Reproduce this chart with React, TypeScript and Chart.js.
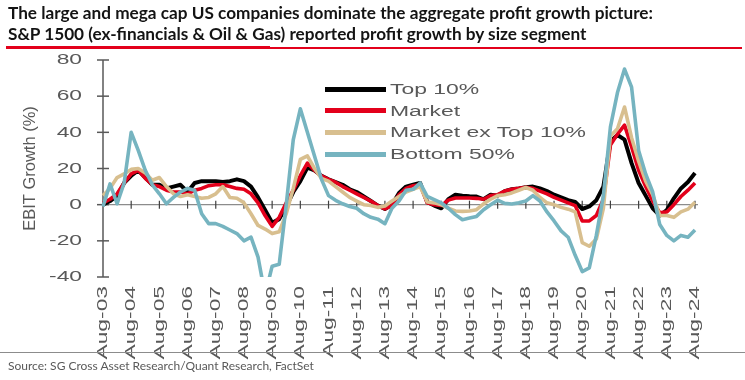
import React, { useEffect, useRef } from "react";
import { Chart, registerables } from "chart.js";

Chart.register(...registerables);

// Year tick labels (every 4th quarterly category)
const yearLabels: string[] = [
  "Aug-03", "Aug-04", "Aug-05", "Aug-06", "Aug-07", "Aug-08", "Aug-09", "Aug-10",
  "Aug-11", "Aug-12", "Aug-13", "Aug-14", "Aug-15", "Aug-16", "Aug-17", "Aug-18",
  "Aug-19", "Aug-20", "Aug-21", "Aug-22", "Aug-23", "Aug-24",
];

// Quarterly categories Aug-03 ... Aug-24
const categories: string[] = [];
yearLabels.forEach((yl, i) => {
  categories.push(yl);
  if (i < yearLabels.length - 1) {
    const yy = Number(yl.slice(4));
    const next = String(yy + 1).padStart(2, "0");
    categories.push("Nov-" + yl.slice(4));
    categories.push("Feb-" + next);
    categories.push("May-" + next);
  }
});

const top10: number[] = [
  0, 2, 5, 12,
  16, 19, 15, 11,
  11, 9, 10, 11,
  7, 12, 13, 13,
  13, 12.5, 13, 14,
  13, 10, 4, -3,
  -10, -8, -1, 7,
  13, 20.5, 19, 16,
  14, 12.5, 11, 8.5,
  7, 4.5, 2, -0.5,
  -2.4, 0, 6.5, 10,
  11, 12, 1.5, -0.5,
  -2, 3, 5.5, 5,
  4.6, 4.5, 3, 5.5,
  5, 7.5, 8.5, 9,
  9.6, 10, 9, 7.5,
  5.5, 4, 2.5, 1.5,
  -2.4, -1, 2.5, 10,
  35, 38.5, 36, 23,
  12, 5, -2, -6,
  -3, 3.5, 9, 12.5,
  17.5,
];

const market: number[] = [
  1, 3, 6, 12,
  17, 19, 14.5, 11,
  10, 8, 7, 7,
  6, 8, 9, 10.5,
  11, 11, 10, 9,
  8.5, 6, 1, -6,
  -12, -7, 1, 8,
  16, 23, 19, 16,
  14, 12.4, 10, 8,
  6, 4, 2, -0.5,
  -2.4, -0.5, 5.5, 9,
  10.5, 11, 1, 0,
  -0.5, 2.5, 3.7, 3.7,
  3.7, 3.5, 3, 5,
  5.5, 7.5, 8.5, 9,
  9.6, 9, 7.5, 6,
  4, 2.5, 1, -0.5,
  -9, -9, -6, 3,
  33, 39, 44, 32,
  19, 10, 2, -4.5,
  -4, 0, 4.5, 8,
  12,
];

const marketExTop10: number[] = [
  5, 9, 15, 17,
  19.5, 20, 17.5, 13.5,
  15, 10, 6, 4.5,
  5.5, 4.5, 3.5, 4,
  6, 10, 4, 3.5,
  1, -5, -11.5, -13.5,
  -16, -15, -5, 9,
  25, 27, 20, 14.5,
  13, 10, 7, 4,
  2, 0, -0.5, -1.5,
  -0.7, 2, 4.5, 7,
  8.5, 10, 1.5, 1,
  0, -2, -3.5, -3.7,
  -3.5, -2.8, 0.5, 3,
  5, 5.5, 6.5, 8,
  9.5, 8, 4, 1,
  0, -1.5, -2.5, -4,
  -21, -23, -19, -2,
  38, 42, 54, 37,
  24, 13, 5.5, -6,
  -6, -7, -4, -2.5,
  1.3,
];

const bottom50: number[] = [
  -1, 11.5, 0.5, 12,
  40, 30, 19, 11,
  6, 0.5, 4, 7,
  9, 8, -5, -10.5,
  -10.5, -12, -14, -16,
  -20, -18, -29, -50,
  -34, -33, 0, 36,
  53, 40, 27, 14,
  5, 2.4, 0.5, -1,
  -2, -5, -7, -8,
  -10.5, -2, 2, 8,
  8.5, 12, 4.6, 2.8,
  1, -2, -5.5, -8.3,
  -7.4, -6.5, -2.8, 0,
  2.5, 0.7, 0.4, 1,
  2, 5, 2, -4,
  -9, -14.5, -18, -28,
  -37, -35, -17, 5,
  43, 62, 75, 65,
  30, 17, 7, -11,
  -17, -20, -17, -18,
  -14,
];

const seriesNames: string[] = ["Top 10%", "Market", "Market ex Top 10%", "Bottom 50%"];
const seriesColors: string[] = ["#000000", "#E3001B", "#D8BF8F", "#76B4C0"];
const yTicks: number[] = [-40, -20, 0, 20, 40, 60, 80];

const GREY = "#595959";

const decorPlugin = {
  id: "decor",
  beforeDatasetsDraw(chart: any) {
    const { ctx, chartArea, scales } = chart;
    const x = scales.x;
    const y = scales.y;
    const y0 = y.getPixelForValue(0);
    ctx.save();
    // zero line
    ctx.strokeStyle = "#8c8c8c";
    ctx.lineWidth = 1.2;
    ctx.beginPath();
    ctx.moveTo(chartArea.left, y0);
    ctx.lineTo(chartArea.right + 3, y0);
    ctx.stroke();
    // x tick marks crossing zero line
    ctx.strokeStyle = "#404040";
    ctx.lineWidth = 1.2;
    categories.forEach((c, i) => {
      if (yearLabels.indexOf(c) >= 0 && i > 0) {
        const px = x.getPixelForValue(i);
        ctx.beginPath();
        ctx.moveTo(px, y0 - 4);
        ctx.lineTo(px, y0 + 4);
        ctx.stroke();
      }
    });
    // y axis line
    ctx.strokeStyle = GREY;
    ctx.lineWidth = 1.5;
    ctx.beginPath();
    ctx.moveTo(chartArea.left, chartArea.top);
    ctx.lineTo(chartArea.left, chartArea.bottom);
    ctx.stroke();
    yTicks.forEach((v) => {
      const py = y.getPixelForValue(v);
      ctx.beginPath();
      ctx.moveTo(chartArea.left - 6, py);
      ctx.lineTo(chartArea.left + 6, py);
      ctx.stroke();
    });
    ctx.restore();
  },
  afterDraw(chart: any) {
    const { ctx, chartArea, scales } = chart;
    const x = scales.x;
    const y = scales.y;
    ctx.save();
    ctx.fillStyle = GREY;
    ctx.font = '15.4px "Liberation Sans", Arial, sans-serif';
    // y tick labels
    yTicks.forEach((v) => {
      const py = y.getPixelForValue(v);
      ctx.save();
      ctx.translate(chartArea.left - 21, py);
      ctx.scale(1.48, 1);
      ctx.textAlign = "right";
      ctx.textBaseline = "middle";
      ctx.fillText(String(v), 0, 0);
      ctx.restore();
    });
    // x tick labels (rotated)
    ctx.font = '15px "Liberation Sans", Arial, sans-serif';
    categories.forEach((c, i) => {
      if (yearLabels.indexOf(c) >= 0) {
        const px = x.getPixelForValue(i);
        ctx.save();
        ctx.translate(px, chartArea.bottom + 9);
        ctx.rotate(-Math.PI / 2);
        ctx.scale(1.52, 1);
        ctx.textAlign = "right";
        ctx.textBaseline = "middle";
        ctx.fillText(c, 0, 0);
        ctx.restore();
      }
    });
    ctx.restore();
  },
};

export default function App() {
  const canvasRef = useRef<HTMLCanvasElement | null>(null);

  useEffect(() => {
    if (!canvasRef.current) return;
    const seriesData = [top10, market, marketExTop10, bottom50];
    const chart = new Chart(canvasRef.current, {
      type: "line",
      data: {
        labels: categories,
        datasets: seriesData.map((d, i) => ({
          label: seriesNames[i],
          data: d,
          borderColor: seriesColors[i],
          backgroundColor: seriesColors[i],
          borderWidth: i === 0 ? 4 : 3.6,
          pointRadius: 0,
          tension: 0,
          order: 4 - i,
          borderJoinStyle: "round" as const,
        })),
      },
      options: {
        animation: false,
        responsive: false,
        devicePixelRatio: 1,
        layout: { padding: { top: 60, right: 50, left: 0, bottom: 0 } },
        plugins: {
          legend: { display: false },
          tooltip: { enabled: false },
          title: { display: false },
        },
        scales: {
          x: {
            type: "category",
            offset: false,
            grid: { display: false },
            border: { display: false },
            ticks: { display: false },
            afterFit: (s: any) => {
              s.height = 103;
            },
          },
          y: {
            min: -40,
            max: 80,
            grid: { display: false },
            border: { display: false },
            ticks: { display: false, stepSize: 20 },
            title: {
              display: true,
              text: "EBIT Growth (%)",
              color: GREY,
              font: { family: '"Liberation Sans", Arial, sans-serif', size: 16.5 },
              padding: { top: 21, bottom: 0 },
            },
            afterFit: (s: any) => {
              s.width = 103;
            },
          },
        },
      },
      plugins: [decorPlugin],
    });
    return () => chart.destroy();
  }, []);

  const legendTop = [89, 110.5, 132, 154];

  return (
    <div
      style={{
        position: "fixed",
        left: 0,
        top: 0,
        width: 745,
        height: 380,
        background: "#ffffff",
        overflow: "hidden",
      }}
    >
      <canvas
        ref={canvasRef}
        width={745}
        height={380}
        style={{ position: "absolute", left: 0, top: 0, width: 745, height: 380 }}
      />
      <div
        style={{
          position: "absolute",
          left: 8,
          top: 2,
          fontFamily: "Lato, 'Noto Sans', sans-serif",
          fontWeight: 700,
          fontSize: 17.2,
          lineHeight: "21px",
          color: "#141414",
          whiteSpace: "nowrap",
        }}
      >
        <div>The large and mega cap US companies dominate the aggregate profit growth picture:</div>
        <div>S&amp;P 1500 (ex-financials &amp; Oil &amp; Gas) reported profit growth by size segment</div>
      </div>
      <div style={{ position: "absolute", left: 6, top: 46, width: 264, height: 3, background: "#E3001B" }} />
      <div style={{ position: "absolute", left: 270, top: 47, width: 472, height: 1.5, background: "#E3001B" }} />
      {seriesNames.map((n, i) => (
        <div
          key={n}
          style={{
            position: "absolute",
            left: 325,
            top: legendTop[i] - 11,
            height: 22,
            display: "flex",
            alignItems: "center",
            whiteSpace: "nowrap",
          }}
        >
          <div style={{ width: 61, height: 5, background: seriesColors[i] }} />
          <div
            style={{
              marginLeft: 4,
              fontFamily: "'Liberation Sans', Arial, sans-serif",
              fontSize: 15.4,
              color: GREY,
              transform: "scaleX(1.49)",
              transformOrigin: "left center",
            }}
          >
            {n}
          </div>
        </div>
      ))}
      <div style={{ position: "absolute", left: 0, top: 352, width: 745, height: 1, background: "#8c8c8c" }} />
      <div
        style={{
          position: "absolute",
          left: 8,
          top: 358,
          fontFamily: "Lato, 'Noto Sans', sans-serif",
          fontSize: 12,
          color: GREY,
          whiteSpace: "nowrap",
        }}
      >
        Source: SG Cross Asset Research/Quant Research, FactSet
      </div>
    </div>
  );
}
